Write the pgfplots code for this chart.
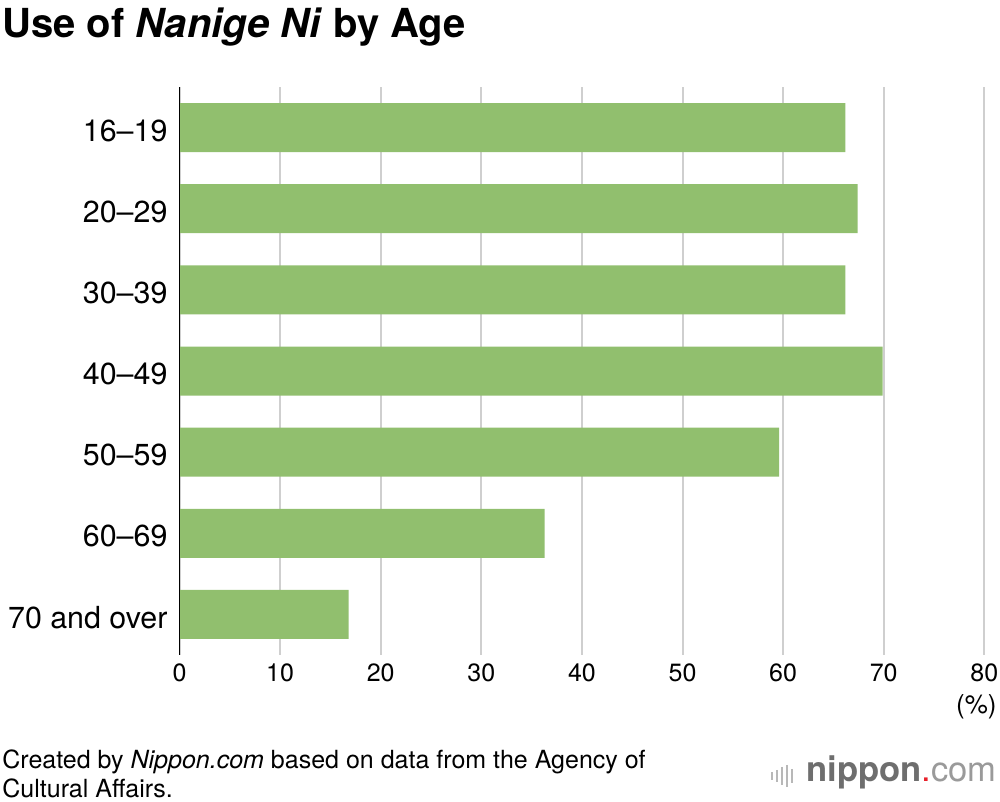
\documentclass[border=0pt]{standalone}
\usepackage{pgfplots}
\pgfplotsset{compat=1.18}
\usepackage{fontspec}
\setmainfont{TeX Gyre Heros}
\definecolor{bargreen}{HTML}{91BF6E}
\definecolor{gridgray}{HTML}{CFCFCF}
\definecolor{logogray}{HTML}{6E6E6E}
\definecolor{logolight}{HTML}{9A9A9A}
\definecolor{logored}{HTML}{E8202A}
\begin{document}
\begin{tikzpicture}
\useasboundingbox (0,0) rectangle (500pt,401pt);
\begin{axis}[
  at={(89.75pt,73.5pt)}, anchor=south west,
  scale only axis, width=402.4pt, height=284pt,
  xbar, bar width=24.5pt,
  xmin=0, xmax=80, ymin=-0.5, ymax=6.5,
  y dir=reverse,
  xtick={0,10,...,80},
  ytick={0,...,6},
  yticklabels={16–19,20–29,30–39,40–49,50–59,60–69,70 and over},
  xmajorgrids, major grid style={gridgray,line width=1pt},
  major tick length=0pt,
  axis line style={draw=none},
  xticklabel style={font=\fontsize{12.5}{14}\selectfont, yshift=-1pt},
  yticklabel style={font=\fontsize{15.2}{17}\selectfont, xshift=-2.5pt, yshift=-1.5pt},
  /pgf/number format/assume math mode=true,
  clip=false,
]
\addplot[fill=bargreen, draw=none] coordinates {
 (66.2,0) (67.4,1) (66.2,2) (69.9,3) (59.6,4) (36.3,5) (16.8,6)};
\draw[black,line width=0.75pt] (axis cs:0,-0.5) -- (axis cs:0,6.5);
\end{axis}
\begin{scope}[x=0.5pt,y=-0.5pt,shift={(0,401pt)}]
\node[anchor=west,inner sep=0pt,font=\fontsize{20}{23}\selectfont\bfseries] at (2,27) {Use of \textit{Nanige Ni} by Age};
\node[anchor=east,inner sep=0pt,font=\fontsize{13}{15}\selectfont] at (997,707) {(\%)};
\node[anchor=north west,inner sep=0pt,align=left,font=\fontsize{12.5}{14.5}\selectfont] at (2,749) {Created by \textit{Nippon.com} based on data from the Agency of\\Cultural Affairs.};
% logo
\foreach \xx/\hh in {772/8,777/12,782/18,787/22,792/14}
  \draw[logolight!70,line width=1.2pt] (\xx,776-\hh/2) -- (\xx,776+\hh/2);
\node[anchor=east,inner sep=0pt,font=\fontsize{17.3}{20}\selectfont] at (997,772) {\textcolor{logogray}{\bfseries nippon}\textcolor{logored}{.}\textcolor{logolight}{com}};
\end{scope}
\end{tikzpicture}
\end{document}
